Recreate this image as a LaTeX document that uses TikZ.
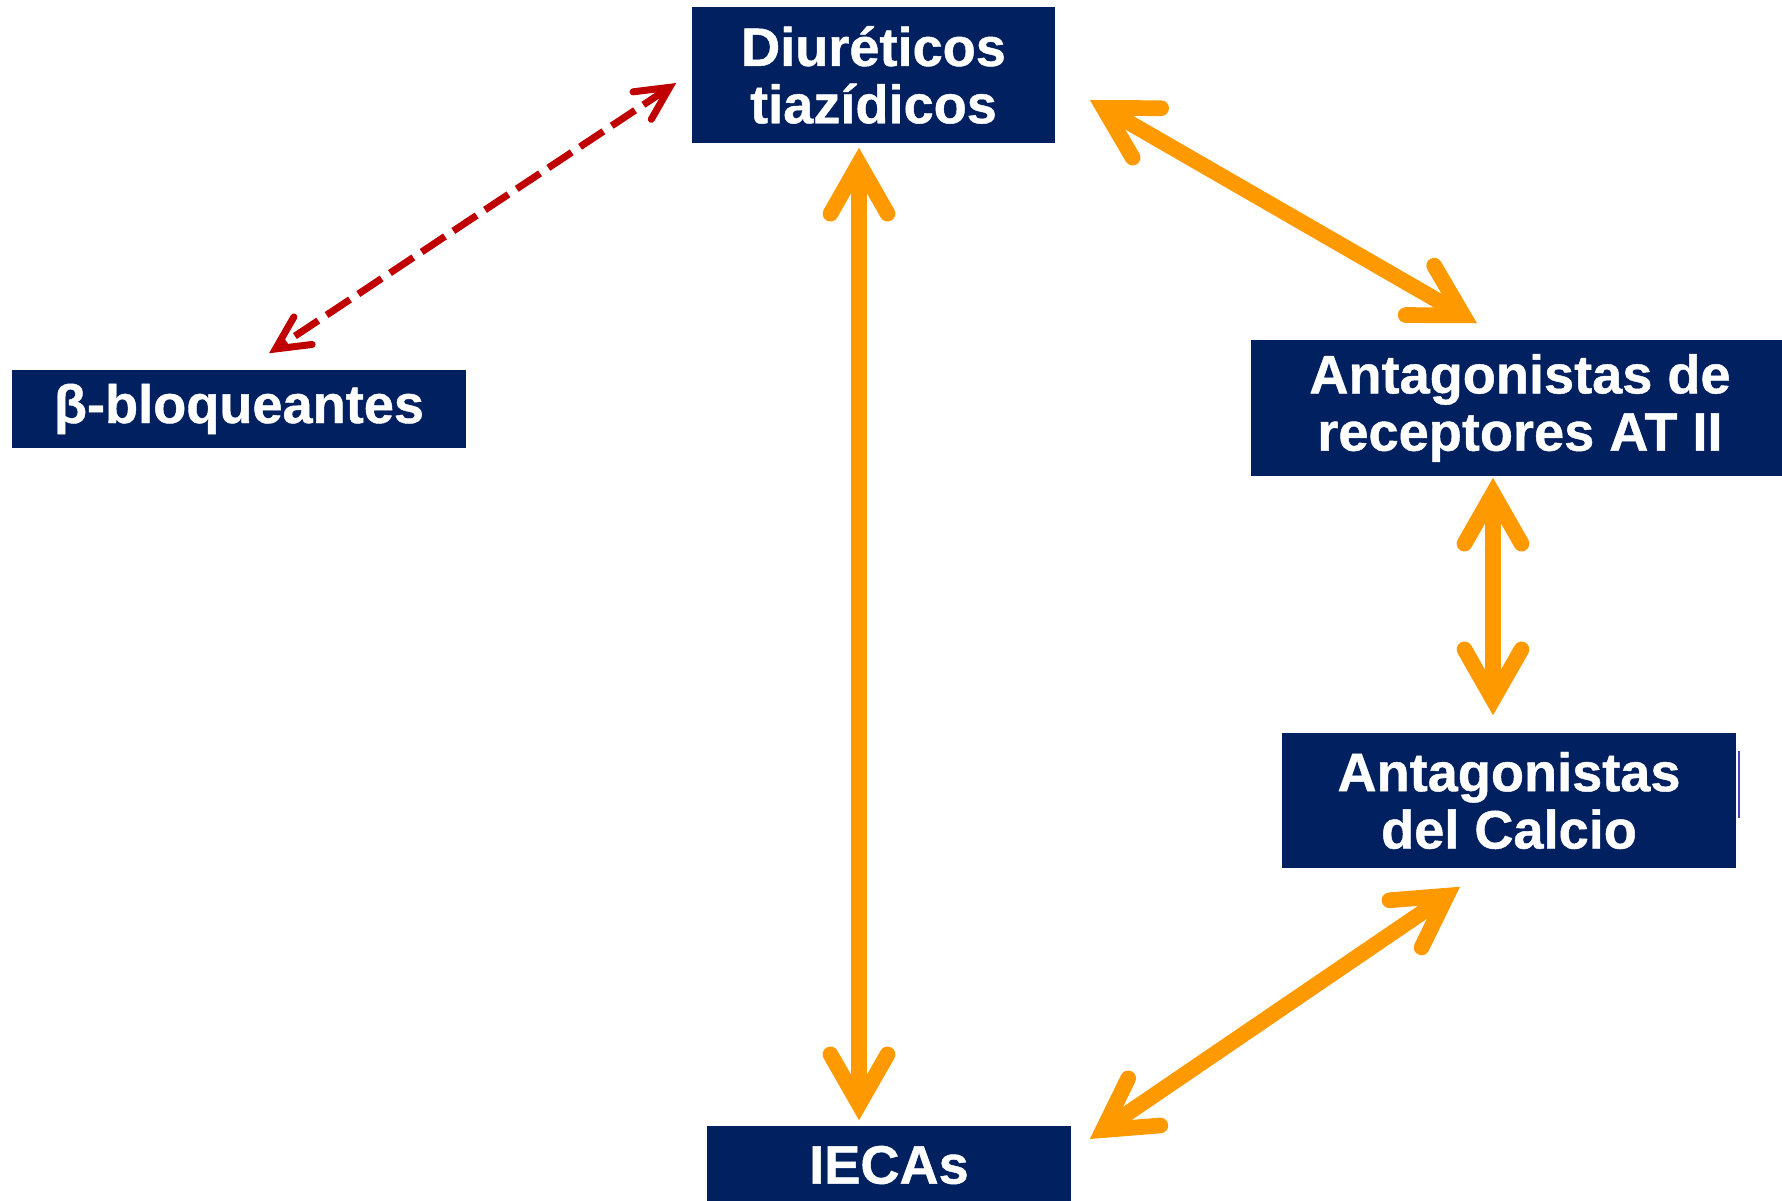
\documentclass[tikz,border=0pt]{standalone}
\usepackage{fontspec}
\setmainfont{Liberation Sans}[BoldFeatures={FakeBold=0.8}]
\usepackage{tikz}
\usetikzlibrary{arrows.meta}
\usetikzlibrary{calc}
\colorlet{navy}{rgb,255:red,0;green,32;blue,96}
\colorlet{dorange}{rgb,255:red,255;green,153;blue,0}
\colorlet{dred}{rgb,255:red,192;green,0;blue,0}
\colorlet{edgeblue}{rgb,255:red,70;green,70;blue,190}
\tikzstyle{drug}=[fill=navy,text=white,inner sep=0pt,align=center,font=\fontsize{15.4}{16.3}\selectfont\bfseries]
\tikzstyle{relhead}=[>/.tip={Straight Barb[length=0.5cm,width=0.57cm,line cap=round,line join=miter]}]
\tikzstyle{rel} =[line width=0.157cm,dorange,relhead,<->]
\tikzstyle{relweak}=[line width=0.07cm,dred,dash pattern=on 0.28cm off 0.10cm,<->,
  >/.tip={Straight Barb[length=0.33cm,width=0.33cm,line cap=round,line join=miter]}]
\begin{document}
\begin{tikzpicture}[x=0.01cm,y=-0.01cm]
	\useasboundingbox (0,0) rectangle (1782,1200);
	\node[drug,minimum width=3.63cm,minimum height=1.36cm] (diu)  at (873.5,75)  {Diuréticos\\tiazídicos};
	\node[drug,minimum width=4.54cm,minimum height=0.78cm] (beta) at (239,409)   {β-bloqueantes};
	\node[drug,minimum width=5.38cm,minimum height=1.36cm] (ara)  at (1520,408)  {Antagonistas de\\receptores AT II};
	\node[drug,minimum width=4.54cm,minimum height=1.35cm] (calc) at (1509,800.5) {Antagonistas\\del Calcio};
	\node[drug,minimum width=3.64cm,minimum height=0.78cm] (ieca) at (889,1165)  {IECAs};
	\draw[line width=0.6pt,edgeblue]
		($(calc.east)+(2,-50)$) -- ($(calc.east)+(2,17)$);
	\draw[rel] ($(diu.south)+(-14.5,4)$) -- ($(ieca.north)+(-30,-5)$);
	\draw[rel] ($(diu.east)+(34,25)$) -- ($(ara.north)+(-43,-16)$);
	\draw[rel] ($(ara.south)+(-27,1)$) -- ($(calc.north)+(-16,-17)$);
	\draw[rel] ($(calc.south)+(-49,18)$) -- ($(ieca.east)+(18,-26)$);
	\draw[relweak] ($(diu.west)+(-15,8)$) -- ($(beta.north)+(30,-16)$);
\end{tikzpicture}
\end{document}
